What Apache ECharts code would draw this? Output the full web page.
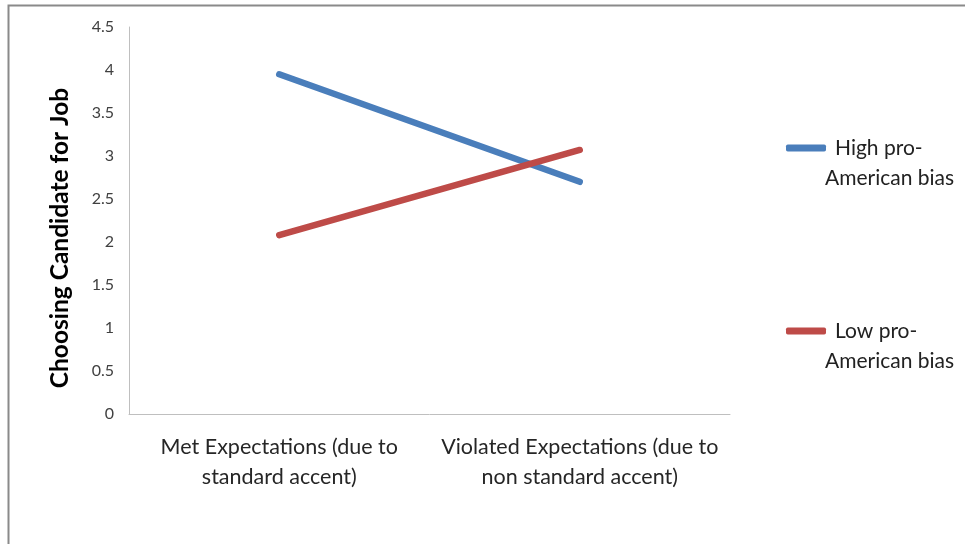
<!DOCTYPE html>
<html>
<head>
<meta charset="utf-8">
<script src="https://cdn.jsdelivr.net/npm/echarts@6/dist/echarts.min.js"></script>
<style>
html,body{margin:0;padding:0;background:#fff;}
#chart{width:965px;height:544px;}
</style>
</head>
<body>
<div id="chart"></div>
<script>
const categories = ['Met Expectations (due to\nstandard accent)', 'Violated Expectations (due to\nnon standard accent)'];
const seriesNames = ['High pro-American bias', 'Low pro-American bias'];
const highBias = [3.95, 2.70];
const lowBias = [2.08, 3.07];
const yAxisTitle = 'Choosing Candidate for Job';
const yMin = 0, yMax = 4.5, yStep = 0.5;

const FONT = 'Lato, "Open Sans", sans-serif';
const chart = echarts.init(document.getElementById('chart'), null, {renderer: 'canvas'});

function legendFor(name, top) {
  return {
    data: [name],
    left: 786,
    top: top,
    orient: 'vertical',
    padding: 0,
    itemWidth: 40,
    itemHeight: 7,
    icon: 'roundRect',
    selectedMode: false,
    formatter: function (n) {
      const idx = n.indexOf('pro-') + 4;
      return '{a|' + n.slice(0, idx) + '}\n{b|' + n.slice(idx) + '}';
    },
    textStyle: {
      fontFamily: FONT,
      fontSize: 21,
      color: '#222',
      lineHeight: 30,
      padding: [30, 0, 0, -6],
      rich: {
        a: {fontFamily: FONT, fontSize: 21, color: '#222', lineHeight: 30, padding: [0, 0, 0, 10]},
        b: {fontFamily: FONT, fontSize: 21, color: '#222', lineHeight: 30}
      }
    }
  };
}

const option = {
  backgroundColor: '#fff',
  animation: false,
  grid: {left: 129, right: 235, top: 27, bottom: 130, containLabel: false, outerBoundsMode: 'none'},
  legend: [legendFor(seriesNames[0], 103), legendFor(seriesNames[1], 286)],
  xAxis: {
    type: 'category',
    data: categories,
    boundaryGap: true,
    axisLine: {show: true, lineStyle: {color: '#bfbfbf', width: 1}},
    axisTick: {show: false},
    splitLine: {show: false},
    axisLabel: {
      interval: 0,
      margin: 18,
      fontFamily: FONT,
      fontSize: 21.5,
      lineHeight: 30,
      color: '#262626',
      verticalAlign: 'top',
      align: 'center'
    }
  },
  yAxis: {
    type: 'value',
    min: yMin,
    max: yMax,
    interval: yStep,
    axisLine: {show: true, lineStyle: {color: '#bfbfbf', width: 1}},
    axisTick: {show: false},
    splitLine: {show: false},
    axisLabel: {
      margin: 15,
      fontFamily: FONT,
      fontSize: 16,
      color: '#404040'
    }
  },
  series: [
    {
      name: seriesNames[0],
      type: 'line',
      data: highBias,
      symbol: 'none',
      color: '#4a7ebb',
      lineStyle: {width: 6.5, color: '#4a7ebb', cap: 'round'}
    },
    {
      name: seriesNames[1],
      type: 'line',
      data: lowBias,
      symbol: 'none',
      color: '#be4b48',
      lineStyle: {width: 6.5, color: '#be4b48', cap: 'round'}
    }
  ],
  graphic: [
    {
      type: 'polyline',
      silent: true,
      shape: {points: [[8.5, 544], [8.5, 5.5], [965, 5.5]]},
      style: {stroke: '#8a8a8a', lineWidth: 2, fill: null}
    },
    {
      type: 'text',
      silent: true,
      x: 60,
      y: 238,
      rotation: Math.PI / 2,
      style: {
        text: yAxisTitle,
        fontFamily: FONT,
        fontWeight: 'bold',
        fontSize: 24.5,
        fill: '#000',
        align: 'center',
        verticalAlign: 'middle'
      }
    }
  ]
};
chart.setOption(option);
</script>
</body>
</html>
